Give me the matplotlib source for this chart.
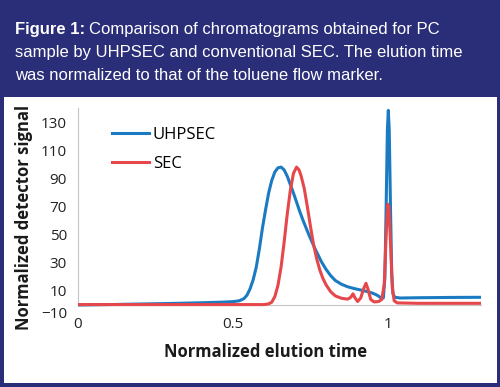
import matplotlib.pyplot as plt
from matplotlib.patches import Rectangle
from matplotlib.transforms import ScaledTranslation

# UHPSEC trace
uhp_t = [0.00, 0.10, 0.20, 0.30, 0.40, 0.46, 0.50, 0.52, 0.535, 0.545, 0.555, 0.565,
         0.575, 0.585, 0.595, 0.605, 0.615, 0.625, 0.635, 0.645, 0.655, 0.665, 0.675,
         0.685, 0.695, 0.705, 0.715, 0.725, 0.735, 0.745, 0.755, 0.765, 0.775, 0.785,
         0.80, 0.815, 0.83, 0.85, 0.87, 0.89, 0.91, 0.93, 0.95, 0.965, 0.978, 0.985,
         0.990, 0.994, 0.998, 1.001, 1.004, 1.008, 1.012, 1.016, 1.022, 1.04, 1.10,
         1.20, 1.30]
uhp_sig = [0.0, 0.3, 0.7, 1.1, 1.6, 2.0, 2.4, 3.0, 4.5, 7, 11.5, 18,
           27, 40, 55, 68, 80, 89, 95, 98, 98.5, 96.5, 92,
           86, 80, 73.5, 67, 61, 55.5, 50, 45, 40, 35.5, 31,
           25.5, 21, 17.5, 14.8, 13, 11.8, 10.8, 9.8, 8.5, 7, 5, 5,
           20, 70, 125, 139, 125, 70, 22, 8, 5.5, 5, 5.2,
           5.4, 5.5]

# conventional SEC trace
sec_t = [0.00, 0.30, 0.60, 0.615, 0.625, 0.635, 0.645, 0.655, 0.665, 0.675, 0.685,
         0.695, 0.705, 0.713, 0.72, 0.73, 0.74, 0.75, 0.76, 0.77, 0.78, 0.79, 0.80,
         0.815, 0.83, 0.85, 0.87, 0.88, 0.887, 0.894, 0.902, 0.912, 0.922, 0.929,
         0.936, 0.944, 0.955, 0.97, 0.98, 0.988, 0.994, 0.999, 1.003, 1.008, 1.014,
         1.02, 1.03, 1.10, 1.30]
sec_sig = [0.3, 0.3, 0.3, 0.8, 2, 6, 14, 27, 45, 65, 82,
           94, 98.5, 96.5, 92, 83, 70, 56, 43, 33, 25, 19, 14.5,
           9.5, 6.5, 4.8, 4.2, 5.5, 8, 5, 2.5, 5, 12, 15.5,
           11, 4, 2.2, 2.5, 4, 15, 50, 72, 70, 45, 12,
           3, 1.5, 1.2, 1.2]

x_ticks = [0, 0.5, 1]
x_ticklabels = ["0", "0.5", "1"]
y_ticks = [-10, 10, 30, 50, 70, 90, 110, 130]

navy = "#2a2d78"
blue = "#1b7bc2"
red = "#e5474b"
chart_font = ["Open Sans", "DejaVu Sans"]

fig = plt.figure(figsize=(5, 3.87), dpi=100)
fig.patch.set_facecolor(navy)
fig.add_artist(Rectangle((4 / 500, 1 - 383 / 387), 493 / 500, 286 / 387,
                         transform=fig.transFigure, facecolor="white",
                         edgecolor="none", zorder=0))

# caption
cap_font = ["Liberation Sans", "DejaVu Sans"]
t1 = fig.text(15 / 500, 1 - 34 / 387, "Figure 1:", color="white", fontsize=12,
              fontweight="bold", family=cap_font, va="baseline")
fig.canvas.draw()
bb = t1.get_window_extent()
fig.text(bb.x1 / 500 + 4 / 500, 1 - 34 / 387,
         "Comparison of chromatograms obtained for PC", color="white",
         fontsize=12, family=cap_font, va="baseline")
fig.text(15 / 500, 1 - 57 / 387,
         "sample by UHPSEC and conventional SEC. The elution time",
         color="white", fontsize=12, family=cap_font, va="baseline")
fig.text(15 / 500, 1 - 80 / 387,
         "was normalized to that of the toluene flow marker.",
         color="white", fontsize=12, family=cap_font, va="baseline")

ax = fig.add_axes([78 / 500, (387 - 319) / 387, 403 / 500, 211.4 / 387])
ax.set_facecolor("none")
ax.plot(uhp_t, uhp_sig, color=blue, lw=2.2, label="UHPSEC", zorder=3)
ax.plot(sec_t, sec_sig, color=red, lw=2.2, label="SEC", zorder=4)

ax.set_xlim(0, 1.30)
ax.set_ylim(-10, 141)
ax.spines["top"].set_visible(False)
ax.spines["right"].set_visible(False)
ax.spines["bottom"].set_position(("data", 0))
ax.spines["bottom"].set_color("#c4c4c4")
ax.spines["left"].set_color("#c4c4c4")
ax.spines["left"].set_bounds(0, 141)
ax.set_xticks(x_ticks)
ax.set_xticklabels(x_ticklabels)
ax.set_yticks(y_ticks)
ax.tick_params(length=0, labelsize=11, colors="#222222")
ax.tick_params(axis="x", pad=9)
ax.tick_params(axis="y", pad=8)
for lab in ax.get_xticklabels() + ax.get_yticklabels():
    lab.set_family(chart_font)
# the -10 label sits up against the axis in the original
low = ax.get_yticklabels()[0]
low.set_transform(low.get_transform() + ScaledTranslation(0, 7 / 100, fig.dpi_scale_trans))

ax.set_xlabel("Normalized elution time", fontsize=12, fontweight="bold",
              family=chart_font, color="#1a1a1a", va="center")
ax.xaxis.set_label_coords(0.466, -0.156)
ax.set_ylabel("Normalized detector signal", fontsize=12, fontweight="bold",
              family=chart_font, color="#1a1a1a", va="center")
ax.yaxis.set_label_coords(-0.134, 0.48)

ax.legend(loc="upper left", bbox_to_anchor=(112 / 500, 1 - 127 / 387),
          bbox_transform=fig.transFigure, frameon=False, borderpad=0,
          borderaxespad=0, handlelength=2.2, handletextpad=0.25,
          labelspacing=0.75, prop={"family": chart_font, "size": 12})

fig.savefig("out.png", dpi=100, facecolor=navy)
